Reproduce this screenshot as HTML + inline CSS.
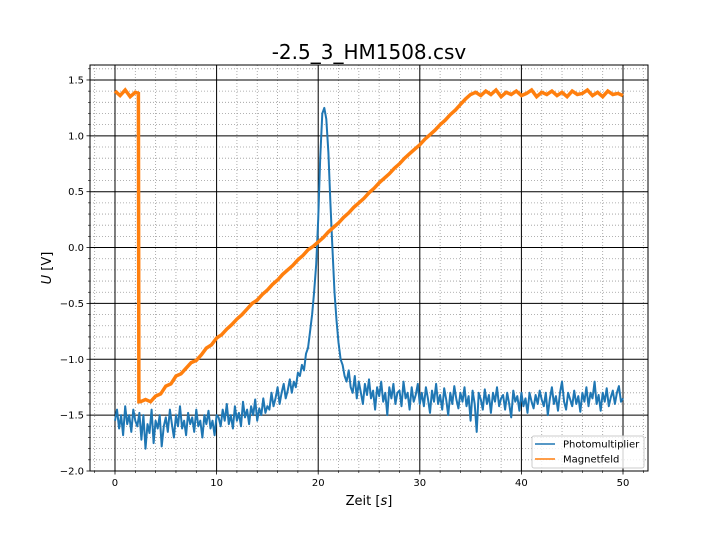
<!DOCTYPE html>
<html><head><meta charset="utf-8"><style>
body{margin:0;background:#fff}
svg{display:block;font-family:"DejaVu Sans","Liberation Sans",sans-serif}
</style></head><body>
<svg id="chart" width="720" height="540" viewBox="0 0 720 540" xmlns="http://www.w3.org/2000/svg">
<rect width="720" height="540" fill="#fff"/>
<g id="grid"></g>
<g id="series"></g>
<rect x="90" y="65" width="558" height="406" fill="none" stroke="#000" stroke-width="1"/>
<g id="ticks"></g>
<text x="369" y="59" text-anchor="middle" font-size="20">-2.5_3_HM1508.csv</text>
<text x="369" y="505" text-anchor="middle" font-size="13">Zeit [<tspan font-style="italic">s</tspan>]</text>
<text transform="translate(51,268) rotate(-90)" text-anchor="middle" font-size="13"><tspan font-style="italic">U</tspan> [V]</text>
<g>
<rect x="532" y="436" width="112" height="32" rx="2" fill="#fff" fill-opacity="0.8" stroke="#ccc"/>
<line x1="535" y1="444" x2="555" y2="444" stroke="#1f77b4" stroke-width="1.5"/>
<text x="563" y="447.5" font-size="10">Photomultiplier</text>
<line x1="535" y1="459" x2="555" y2="459" stroke="#ff7f0e" stroke-width="1.5"/>
<text x="563" y="462.5" font-size="10">Magnetfeld</text>
</g>
</svg>
<script>
const xTicks=[0,10,20,30,40,50];
const yTicks=[-2.0,-1.5,-1.0,-0.5,0.0,0.5,1.0,1.5];
const yTickLabels=["−2.0","−1.5","−1.0","−0.5","0.0","0.5","1.0","1.5"];
const pmStep=0.2;
const pmValues=[-1.55,-1.45,-1.62,-1.5,-1.68,-1.42,-1.58,-1.5,-1.65,-1.45,-1.55,-1.6,-1.48,
-1.72,-1.5,-1.8,-1.58,-1.66,-1.45,-1.75,-1.55,-1.62,-1.5,-1.78,-1.6,-1.52,
-1.65,-1.45,-1.58,-1.7,-1.5,-1.6,-1.42,-1.62,-1.55,-1.68,-1.48,-1.58,-1.52,-1.65,-1.45,-1.6,-1.55,-1.7,-1.5,-1.58,-1.46,-1.62,-1.55,-1.68,-1.5,
-1.52,-1.6,-1.45,-1.55,-1.4,-1.58,-1.5,-1.62,-1.42,-1.55,-1.48,-1.6,-1.38,-1.52,-1.45,-1.58,-1.42,-1.5,-1.36,-1.55,-1.44,-1.5,-1.35,-1.48,-1.42,
-1.45,-1.3,-1.42,-1.35,-1.25,-1.4,-1.3,-1.22,-1.35,-1.28,-1.18,-1.3,-1.2,-1.25,-1.12,
-1.15,-1.05,-1.1,-0.95,-0.9,-0.75,-0.6,-0.4,-0.15,
0.25,0.8,1.2,1.25,1.15,0.85,
0.4,0.0,-0.4,-0.65,-0.85,-1.0,-1.05,-1.15,-1.2,-1.1,
-1.25,-1.3,-1.15,-1.35,-1.2,-1.3,-1.4,-1.22,-1.32,-1.18,-1.35,-1.28,-1.45,-1.25,-1.33,-1.2,-1.38,-1.3,-1.5,-1.25,-1.35,-1.22,-1.4,-1.3,-1.28,-1.42,-1.2,-1.35,-1.3,-1.45,-1.25,-1.38,-1.32,-1.22,-1.4,
-1.3,-1.42,-1.25,-1.35,-1.48,-1.28,-1.38,-1.22,-1.4,-1.32,-1.45,-1.26,-1.36,-1.5,-1.3,-1.4,-1.24,-1.36,-1.44,-1.3,
-1.38,-1.25,-1.42,-1.33,-1.55,-1.28,-1.4,-1.65,-1.3,-1.36,-1.45,-1.27,-1.4,-1.32,-1.48,-1.3,-1.38,-1.25,-1.42,-1.35,
-1.32,-1.45,-1.3,-1.4,-1.52,-1.28,-1.38,-1.33,-1.46,-1.3,-1.42,-1.35,-1.48,-1.3,-1.38,-1.44,-1.32,-1.4,-1.28,-1.36,
-1.42,-1.3,-1.5,-1.35,-1.25,-1.4,-1.33,-1.46,-1.3,-1.2,-1.38,-1.45,-1.3,-1.36,-1.42,-1.28,-1.4,-1.33,-1.47,-1.3,
-1.38,-1.25,-1.42,-1.3,-1.35,-1.2,-1.4,-1.32,-1.46,-1.3,-1.38,-1.26,-1.42,-1.34,-1.28,-1.4,-1.3,-1.24,-1.38,-1.35];
const magHeadTimes=[0,0.5,1,1.5,2,2.3,2.35];
const magStep=0.5;
const magValues=[1.4,1.36,1.41,1.35,1.39,1.38,
-1.38,-1.38,-1.36,-1.38,-1.33,-1.31,-1.24,-1.22,-1.15,-1.13,-1.08,-1.03,-1.01,-0.96,-0.9,-0.87,-0.81,-0.78,-0.73,-0.69,-0.64,-0.6,-0.55,-0.5,-0.47,-0.42,-0.38,-0.33,-0.29,-0.24,-0.2,-0.16,-0.11,-0.07,-0.02,0.01,0.05,0.09,0.14,0.18,0.22,0.27,0.31,0.36,0.4,0.44,0.49,0.53,0.58,0.62,0.66,0.71,0.75,0.8,0.84,0.88,0.92,0.97,1.01,1.05,1.1,1.14,1.19,1.23,1.28,1.33,1.37,
1.39,1.36,1.4,1.37,1.41,1.35,1.39,1.37,1.4,1.36,1.38,1.41,1.35,1.39,1.37,1.4,1.36,1.39,1.35,1.4,1.37,1.38,1.41,1.36,1.39,1.35,1.4,1.37,1.38,1.36];
const magTimes=magHeadTimes.slice();
for(let t=2.5;magTimes.length<magValues.length;t+=magStep)magTimes.push(t);

const X0=-2.46,X1=52.46,Y0=-2.0,Y1=1.634;
const L=90,R=648,T=65,B=471;
const sx=v=>L+(v-X0)/(X1-X0)*(R-L);
const sy=v=>B-(v-Y0)/(Y1-Y0)*(B-T);
const NS="http://www.w3.org/2000/svg";
function mk(tag,attrs,parent){const e=document.createElementNS(NS,tag);for(const k in attrs)e.setAttribute(k,attrs[k]);parent.appendChild(e);return e;}
const grid=document.getElementById('grid'),ticks=document.getElementById('ticks'),series=document.getElementById('series');
for(let v=-2;v<=52;v+=2){if(v%10===0)continue;const l=mk('line',{x1:sx(v),x2:sx(v),y1:T,y2:B,stroke:'#999','stroke-width':0.8,'stroke-dasharray':'1,2'},grid);


const t=mk('line',{x1:sx(v),x2:sx(v),y1:B,y2:B+2,stroke:'#000','stroke-width':0.6},ticks);

}
for(let k=-20;k<=16;k++){if(k%5===0)continue;const v=k/10;const l=mk('line',{x1:L,x2:R,y1:sy(v),y2:sy(v),stroke:'#999','stroke-width':0.8,'stroke-dasharray':'1,2'},grid);


const t=mk('line',{x1:L-2,x2:L,y1:sy(v),y2:sy(v),stroke:'#000','stroke-width':0.6},ticks);

}
xTicks.forEach(v=>{const l=mk('line',{x1:sx(v),x2:sx(v),y1:T,y2:B,stroke:'#000','stroke-width':1},grid);


const t=mk('line',{x1:sx(v),x2:sx(v),y1:B,y2:B+3.5,stroke:'#000','stroke-width':0.8},ticks);


const tx=mk('text',{x:sx(v),y:B+15,'text-anchor':'middle','font-size':10},ticks);tx.textContent=v;

});
yTicks.forEach((v,i)=>{const l=mk('line',{x1:L,x2:R,y1:sy(v),y2:sy(v),stroke:'#000','stroke-width':1},grid);


const t=mk('line',{x1:L-3.5,x2:L,y1:sy(v),y2:sy(v),stroke:'#000','stroke-width':0.8},ticks);


const tx=mk('text',{x:L-6,y:sy(v)+3.5,'text-anchor':'end','font-size':10},ticks);tx.textContent=yTickLabels[i];

});
const pmPts=pmValues.map((v,i)=>sx(i*pmStep).toFixed(1)+','+sy(v).toFixed(1)).join(' ');
const pm=mk('polyline',{points:pmPts,fill:'none',stroke:'#1f77b4','stroke-width':2,'stroke-linejoin':'round'},series);


const mgPts=magValues.map((v,i)=>sx(magTimes[i]).toFixed(1)+','+sy(v).toFixed(1)).join(' ');
const mg=mk('polyline',{points:mgPts,fill:'none',stroke:'#ff7f0e','stroke-width':3.5,'stroke-linejoin':'miter'},series);


</script>
</body></html>
